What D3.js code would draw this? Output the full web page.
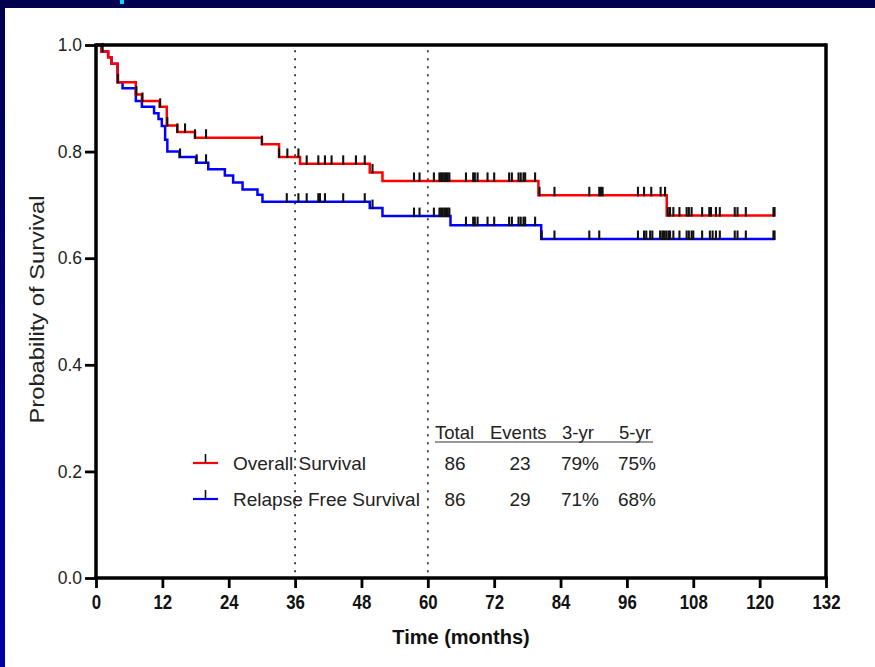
<!DOCTYPE html>
<html>
<head>
<meta charset="utf-8">
<script src="https://cdn.jsdelivr.net/npm/d3@7"></script>
<style>
  html, body { margin: 0; padding: 0; background: #fff; }
  svg { display: block; }
  text { font-family: "Liberation Sans", Arial, sans-serif; }
</style>
</head>
<body>
<svg id="chart" width="875" height="667"></svg>
<script>
// ---------- data ----------
const xTicks = [0, 12, 24, 36, 48, 60, 72, 84, 96, 108, 120, 132];
const yTicks = [0.0, 0.2, 0.4, 0.6, 0.8, 1.0];
const refLines = [36, 60];

// Overall survival (step times, survival after step)
const osTimes = [0, 1.0, 2.2, 2.8, 3.9, 7.2, 8.3, 11.5, 12.8, 14.7, 17.9, 30.0, 33.1, 36.9, 49.5, 51.8, 80.0, 103.2];
const osSurv  = [1.0, 0.988, 0.977, 0.965, 0.930, 0.907, 0.895, 0.884, 0.849, 0.837, 0.826, 0.814, 0.790, 0.777, 0.761, 0.745, 0.718, 0.680];
const osEnd = 122.8;
const osCensor = [1.2, 4.0, 7.3, 8.4, 11.6, 12.9, 14.7, 16.1, 17.9, 19.9, 30.0, 33.1, 34.6, 36.6,
  38.1, 40.2, 41.4, 42.6, 44.7, 47.0, 48.6, 50.0, 57.5, 58.5, 61.1, 62.1, 62.4, 62.7, 63.0,
  63.3, 63.6, 63.9, 66.9, 68.2, 68.5, 69.0, 70.8, 72.0, 74.7, 75.2, 76.4, 76.8, 77.3, 77.6,
  79.4, 80.2, 82.9, 89.2, 91.0, 91.3, 91.6, 98.0, 99.1, 100.4, 102.1, 102.9, 103.4, 103.8,
  104.4, 105.5, 106.8, 107.2, 107.7, 109.6, 110.9, 111.2, 112.1, 112.8, 115.5, 116.0, 117.5,
  122.5, 122.7];

// Relapse free survival
const rfsTimes = [0, 1.0, 2.2, 2.8, 3.9, 4.8, 7.2, 8.3, 10.5, 11.3, 11.9, 12.5, 12.9, 15.1, 18.1, 20.3, 23.3, 24.8, 26.5, 29.2, 30.1, 49.5, 51.8, 64.1, 80.5];
const rfsSurv  = [1.0, 0.988, 0.977, 0.965, 0.930, 0.919, 0.895, 0.884, 0.872, 0.861, 0.848, 0.822, 0.800, 0.790, 0.779, 0.767, 0.755, 0.742, 0.729, 0.719, 0.706, 0.694, 0.679, 0.662, 0.636];
const rfsEnd = 122.8;
const rfsCensor = [15.2, 18.2, 19.9, 34.5, 36.6, 38.1, 40.2, 40.5, 41.4, 44.7, 48.6, 50.0,
  57.5, 58.5, 61.1, 62.1, 62.4, 62.7, 63.0, 63.3, 63.6, 63.9, 66.9, 68.2, 68.5, 69.0, 70.8,
  72.0, 74.7, 75.2, 76.4, 76.8, 77.3, 77.6, 79.4, 80.6, 82.9, 89.2, 91.0, 98.0, 99.1, 99.5,
  100.2, 100.6, 102.0, 102.4, 102.7, 103.1, 103.5, 103.8, 104.4, 105.5, 106.8, 107.2, 107.7,
  108.0, 109.6, 111.0, 111.5, 112.1, 112.8, 115.5, 116.0, 117.5, 122.5, 122.7];

// Summary table
const tableHeaders = ["Total", "Events", "3-yr", "5-yr"];
const seriesNames = ["Overall Survival", "Relapse Free Survival"];
const seriesColors = ["#ff0000", "#0000ff"];
const totals = [86, 86];
const events = [23, 29];
const yr3 = ["79%", "71%"];
const yr5 = ["75%", "68%"];

// ---------- drawing ----------
const svg = d3.select("#chart");

// slide background pieces
const defs = svg.append("defs");
const grad = defs.append("linearGradient").attr("id", "leftGrad")
  .attr("x1", 0).attr("y1", 0).attr("x2", 0).attr("y2", 1);
grad.append("stop").attr("offset", "0%").attr("stop-color", "#00004e");
grad.append("stop").attr("offset", "100%").attr("stop-color", "#0000a8");
svg.append("rect").attr("x", 0).attr("y", 0).attr("width", 875).attr("height", 667).attr("fill", "#fff");
svg.append("rect").attr("x", 0).attr("y", 0).attr("width", 875).attr("height", 8).attr("fill", "#00004e");
svg.append("rect").attr("x", 0).attr("y", 0).attr("width", 5).attr("height", 667).attr("fill", "url(#leftGrad)");
svg.append("rect").attr("x", 120).attr("y", 0).attr("width", 4).attr("height", 4).attr("fill", "#00d8ff");

const x = d3.scaleLinear().domain([0, 132]).range([96, 826]);
const y = d3.scaleLinear().domain([0, 1]).range([578, 45]);

// reference dotted lines
svg.selectAll("line.ref").data(refLines).join("line")
  .attr("class", "ref")
  .attr("x1", d => x(d)).attr("x2", d => x(d))
  .attr("y1", y(0.99)).attr("y2", y(0))
  .attr("stroke", "#333").attr("stroke-width", 1.8)
  .attr("stroke-dasharray", "1.8,6.2");

// curves
function stepPoints(times, surv, end) {
  const pts = times.map((t, i) => [t, surv[i]]);
  pts.push([end, surv[surv.length - 1]]);
  return pts;
}
function survAt(times, surv, t) {
  let s = surv[0];
  for (let i = 0; i < times.length; i++) if (times[i] <= t) s = surv[i];
  return s;
}
const line = d3.line().x(d => x(d[0])).y(d => y(d[1])).curve(d3.curveStepAfter);

const curves = [
  { times: rfsTimes, surv: rfsSurv, end: rfsEnd, censor: rfsCensor, color: seriesColors[1] },
  { times: osTimes, surv: osSurv, end: osEnd, censor: osCensor, color: seriesColors[0] }
];
curves.forEach(c => {
  svg.append("path")
    .datum(stepPoints(c.times, c.surv, c.end))
    .attr("d", line)
    .attr("fill", "none")
    .attr("stroke", c.color)
    .attr("stroke-width", 2.5);
});
curves.forEach(c => {
  svg.append("g").selectAll("line").data(c.censor).join("line")
    .attr("x1", d => x(d)).attr("x2", d => x(d))
    .attr("y1", d => y(survAt(c.times, c.surv, d)) + 1)
    .attr("y2", d => y(survAt(c.times, c.surv, d)) - 8.5)
    .attr("stroke", "#111").attr("stroke-width", 2.1);
});

// frame (top & right)
svg.append("line").attr("x1", x(0)).attr("x2", x(132)).attr("y1", y(1)).attr("y2", y(1))
  .attr("stroke", "#000").attr("stroke-width", 3.5);
svg.append("line").attr("x1", x(132)).attr("x2", x(132)).attr("y1", y(1) - 1.75).attr("y2", y(0))
  .attr("stroke", "#000").attr("stroke-width", 3.5);

// axes
const xAxis = d3.axisBottom(x).tickValues(xTicks).tickSize(10).tickPadding(6).tickFormat(d3.format("d"));
const gx = svg.append("g").attr("transform", `translate(0,${y(0)})`).call(xAxis);
gx.select(".domain").attr("stroke", "#000").attr("stroke-width", 3.5)
  .attr("d", `M${x(0) - 1.75},0H${x(132) + 1.75}`);
gx.selectAll(".tick line").attr("stroke", "#000").attr("stroke-width", 2.8);
gx.selectAll(".tick text")
  .attr("fill", "#111")
  .attr("transform", "scale(0.8,1)")
  .style("font-size", "21px").style("font-weight", "bold");

const yAxis = d3.axisLeft(y).tickValues(yTicks).tickSize(11).tickPadding(3).tickFormat(d3.format(".1f"));
const gy = svg.append("g").attr("transform", `translate(${x(0)},0)`).call(yAxis);
gy.select(".domain").attr("stroke", "#000").attr("stroke-width", 3.5)
  .attr("d", `M0,${y(1) - 1.75}V${y(0) + 1.75}`);
gy.selectAll(".tick line").attr("stroke", "#000").attr("stroke-width", 2.8);
gy.selectAll(".tick text").attr("fill", "#222")
  .style("font-size", "17.5px");

// axis titles
svg.append("text").attr("x", x(66)).attr("y", 644)
  .attr("text-anchor", "middle")
  .style("font-size", "20px").style("font-weight", "bold").attr("fill", "#111")
  .text("Time (months)");
svg.append("text")
  .attr("transform", `translate(44,${y(0.5) - 2}) rotate(-90)`)
  .attr("text-anchor", "middle")
  .attr("textLength", 228).attr("lengthAdjust", "spacingAndGlyphs")
  .style("font-size", "21px").attr("fill", "#222")
  .text("Probability of Survival");

// summary table / legend
const headerX = [435, 490, 562, 619];
const colX = [455, 520, 580, 637]; // centres of data columns
const headerG = svg.append("g");
headerG.selectAll("text").data(tableHeaders).join("text")
  .attr("x", (d, i) => headerX[i]).attr("y", 439)
  .style("font-size", "18.5px").attr("fill", "#222")
  .text(d => d);
headerG.append("line").attr("x1", 435).attr("x2", 653).attr("y1", 442).attr("y2", 442)
  .attr("stroke", "#333").attr("stroke-width", 1.2);

const rowY = [470, 506];
seriesNames.forEach((name, i) => {
  const g = svg.append("g");
  g.append("line").attr("x1", 193).attr("x2", 218).attr("y1", rowY[i] - 7).attr("y2", rowY[i] - 7)
    .attr("stroke", seriesColors[i]).attr("stroke-width", 2.2);
  g.append("line").attr("x1", 205.5).attr("x2", 205.5).attr("y1", rowY[i] - 7).attr("y2", rowY[i] - 16)
    .attr("stroke", "#111").attr("stroke-width", 1.6);
  g.append("text").attr("x", 233).attr("y", rowY[i])
    .style("font-size", "19px").attr("fill", "#222").text(name);
  const vals = [totals[i], events[i], yr3[i], yr5[i]];
  g.selectAll("text.v").data(vals).join("text").attr("class", "v")
    .attr("x", (d, j) => colX[j]).attr("y", rowY[i])
    .attr("text-anchor", "middle")
    .style("font-size", "19px").attr("fill", "#222")
    .text(d => d);
});
</script>
</body>
</html>
